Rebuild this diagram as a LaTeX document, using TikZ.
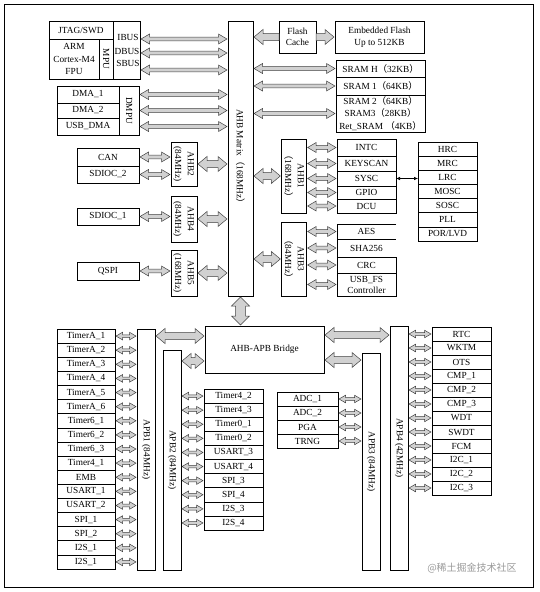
\documentclass[tikz,border=0pt]{standalone}
\usepackage{fontspec}
\setmainfont{Liberation Serif}
\newfontfamily\cjkfont{Noto Sans CJK SC}
\usetikzlibrary{arrows.meta,calc}
\newcommand\fs{\fontsize{9.3}{11}\selectfont}
\newcommand\flp{{\cjkfont （}}
\newcommand\frp{{\cjkfont ）}}
\newcommand\vtwo[2]{\rotatebox{-90}{{\def\arraystretch{1.15}\begin{tabular}{@{}c@{}}#1\\#2\end{tabular}}}}
\tikzset{
  box/.style={draw, line width=0.6pt, inner sep=0pt, outer sep=0pt, align=center, font=\fs},
  harr/.style={draw=black!75, fill=black!18, line width=0.5pt, line join=miter},
}
\newcommand\mybox[7][]{\node[box,minimum width={(#5)-(#3)},minimum height={(#6)-(#4)},#1] (#2) at ({((#3)+(#5))/2},{((#4)+(#6))/2}) {#7};}
% double-headed hollow arrow: from, to, shaft half width, head half width, head length
\newcommand\darrow[5]{%
  \path ($(#1)!1pt!(#2)$) coordinate (dAs) ($(#2)!1pt!(#1)$) coordinate (dAe);
  \path ($(dAs)!#5!(dAe)$) coordinate (dAp) ($(dAe)!#5!(dAs)$) coordinate (dAq);
  \draw[harr] (dAs) -- ($(dAp)!#4!90:(dAe)$) -- ($(dAp)!#3!90:(dAe)$)
    -- ($(dAq)!#3!-90:(dAs)$) -- ($(dAq)!#4!-90:(dAs)$) -- (dAe)
    -- ($(dAq)!#4!90:(dAs)$) -- ($(dAq)!#3!90:(dAs)$)
    -- ($(dAp)!#3!-90:(dAe)$) -- ($(dAp)!#4!-90:(dAe)$) -- cycle;}
% single-headed hollow arrow, head at the first point
\newcommand\sarrow[5]{%
  \path ($(#1)!1pt!(#2)$) coordinate (dAs) (#2) coordinate (dAe);
  \path ($(dAs)!#5!(dAe)$) coordinate (dAp);
  \draw[harr] (dAs) -- ($(dAp)!#4!90:(dAe)$) -- ($(dAp)!#3!90:(dAe)$)
    -- ($(dAe)!#3!-90:(dAs)$) -- ($(dAe)!#3!90:(dAs)$)
    -- ($(dAp)!#3!-90:(dAe)$) -- ($(dAp)!#4!-90:(dAe)$) -- cycle;}
\newcommand\bigA[2]{\darrow{#1}{#2}{3.5pt}{7.5pt}{9pt}}
\newcommand\bigS[2]{\sarrow{#1}{#2}{3.5pt}{7.5pt}{9pt}}
\newcommand\hugeA[2]{\darrow{#1}{#2}{5pt}{9pt}{9pt}}
\newcommand\medA[2]{\darrow{#1}{#2}{1.8pt}{5pt}{8.5pt}}
\newcommand\smlA[2]{\darrow{#1}{#2}{1.3pt}{3.8pt}{6.5pt}}
\begin{document}
\begin{tikzpicture}[x=1pt,y=-1pt]
\useasboundingbox (0,0) rectangle (539,592);
\draw[line width=0.8pt] (4,4) rectangle (533,587);

% AHB matrix
\mybox{mtx}{228}{21}{253}{296}{\rotatebox{-90}{AHB Matrix\flp168MHz\frp}}

% CPU
\mybox{jtag}{49}{21}{113}{39}{JTAG/SWD}
\mybox[font=\fontsize{9.3}{12.5}\selectfont]{arm}{49}{39}{99}{79}{ARM\\Cortex-M4\\FPU}
\mybox{mpu}{99}{39}{113}{79}{\rotatebox{-90}{MPU}}
\mybox{bus}{113}{21}{140}{79}{}
\node[font=\fs,inner sep=0pt] (ibus) at (128,37) {IBUS};
\node[font=\fs,inner sep=0pt] (dbus) at (127,51) {DBUS};
\node[font=\fs,inner sep=0pt] (sbus) at (128,63) {SBUS};
\coordinate (cb1) at (140,39);
\coordinate (cb2) at (140,53);
\coordinate (cb3) at (140,70);
\foreach \c in {cb1,cb2,cb3} {\medA{\c}{\c -| mtx.west}}

% DMA
\mybox{dma1}{57}{86}{119}{103}{DMA\_1}
\mybox{dma2}{57}{103}{119}{118}{DMA\_2}
\mybox{usbdma}{57}{118}{119}{135}{USB\_DMA}
\mybox{dmpu}{119}{86}{139}{135}{\rotatebox{-90}{DMPU}}
\foreach \n in {dma1,dma2,usbdma} {\medA{dmpu.east |- \n}{mtx.west |- \n}}

% Flash
\mybox{fc}{279}{21}{316}{53}{Flash\\Cache}
\mybox[font=\fontsize{9.3}{12}\selectfont]{ef}{335}{21}{424}{53}{Embedded Flash\\Up to 512KB}
\bigS{mtx.east |- fc}{fc.west}
\bigS{ef.west}{fc.east}

% SRAM
\mybox{sramh}{336}{60}{425}{77}{SRAM H\flp32KB\frp}
\mybox{sram1}{336}{77}{425}{95}{SRAM 1\flp64KB\frp}
\mybox[font=\fontsize{9.3}{12.5}\selectfont]{sram2}{336}{95}{425}{132}{SRAM 2\flp64KB\frp\\SRAM3\flp28KB\frp\\Ret\_SRAM \flp4KB\frp}
\foreach \n in {sramh,sram1,sram2} {\medA{mtx.east |- \n}{\n.west}}

% AHB2 / AHB4 / AHB5
\mybox{ahb2}{171}{142}{197}{186}{\vtwo{AHB2}{(84MHz)}}
\mybox{can}{77}{148}{139}{166}{CAN}
\mybox{sdioc2}{77}{166}{139}{183}{SDIOC\_2}
\mybox{ahb4}{171}{196}{197}{242}{\vtwo{AHB4}{(84MHz)}}
\mybox{sdioc1}{77}{208}{139}{225}{SDIOC\_1}
\mybox{ahb5}{171}{250}{197}{296}{\vtwo{AHB5}{(168MHz)}}
\mybox{qspi}{77}{262}{139}{280}{QSPI}
\medA{can.east}{can.east -| ahb2.west}
\medA{sdioc2.east}{sdioc2.east -| ahb2.west}
\medA{sdioc1.east}{sdioc1.east -| ahb4.west}
\medA{qspi.east}{qspi.east -| ahb5.west}
\bigA{ahb2.east}{ahb2.east -| mtx.west}
\bigA{ahb4.east}{ahb4.east -| mtx.west}
\bigA{ahb5.east}{ahb5.east -| mtx.west}

% AHB1
\mybox{ahb1}{282}{139}{306}{213}{\vtwo{AHB1}{\flp168MHz\frp}}
\mybox{intc}{337}{139}{396}{156}{INTC}
\mybox{keyscan}{337}{156}{396}{171}{KEYSCAN}
\mybox{sysc}{337}{171}{396}{186}{SYSC}
\mybox{gpio}{337}{186}{396}{199}{GPIO}
\mybox{dcu}{337}{199}{396}{213}{DCU}
\foreach \n in {intc,keyscan,sysc,gpio,dcu} {\medA{\n.west -| ahb1.east}{\n.west}}
\bigA{mtx.east |- ahb1}{ahb1.west}

% clocks
\foreach [count=\i] \txt in {HRC,MRC,LRC,MOSC,SOSC,PLL,POR/LVD}
  {\mybox{ck\i}{418}{142+(\i-1)*14.143}{477}{142+\i*14.143}{\txt}}
\draw[{Latex[length=4pt,width=3.5pt]}-{Latex[length=4pt,width=3.5pt]}, line width=0.6pt] (sysc.east) -- (sysc.east -| ck3.west);

% AHB3
\mybox{ahb3}{282}{222}{306}{296}{\vtwo{AHB3}{\flp84MHz\frp}}
\mybox[draw=none]{aes}{337}{224}{396}{239}{AES}
\mybox[draw=none]{sha}{337}{239}{396}{257}{SHA256}
\draw[line width=0.6pt] (aes.north east) -- (aes.north west) -- (sha.south west) -- (sha.south east);
\draw[line width=0.6pt] (aes.south west) -- (aes.south east);
\mybox{crc}{337}{257}{396}{273}{CRC}
\mybox{usbfs}{337}{273}{396}{296}{USB\_FS\\Controller}
\foreach \n in {aes,sha,crc,usbfs} {\medA{\n.west -| ahb3.east}{\n.west}}
\bigA{mtx.east |- ahb3}{ahb3.west}

% bridge and APB buses
\mybox{bridge}{205}{326}{324}{373}{AHB-APB Bridge}
\hugeA{mtx.south}{mtx.south |- bridge.north}
\mybox{apb1}{137}{329}{155}{570}{\rotatebox{-90}{APB1 (84MHz)}}
\mybox{apb2}{163}{350}{181}{570}{\rotatebox{-90}{APB2 (84MHz)}}
\mybox{apb3}{362}{353}{380}{570}{\rotatebox{-90}{APB3 (84MHz)}}
\mybox{apb4}{390}{326}{408}{570}{\rotatebox{-90}{APB4 (42MHz)}}
\path (bridge.north west) ++(0,10) coordinate (bl1);
\path (bridge.north west) ++(0,35) coordinate (bl2);
\path (bridge.north east) ++(0,9) coordinate (br1);
\path (bridge.north east) ++(0,34) coordinate (br2);
\bigA{bl1}{bl1 -| apb1.east}
\bigA{bl2}{bl2 -| apb2.east}
\bigA{br1}{br1 -| apb4.west}
\bigA{br2}{br2 -| apb3.west}

% APB1 peripherals
\foreach [count=\i] \txt in {TimerA\_1,TimerA\_2,TimerA\_3,TimerA\_4,TimerA\_5,TimerA\_6,Timer6\_1,Timer6\_2,Timer6\_3,Timer4\_1,EMB,USART\_1,USART\_2,SPI\_1,SPI\_2,I2S\_1,I2S\_1}
  {\mybox{pa\i}{57}{329+(\i-1)*14.118}{115}{329+\i*14.118}{\txt}
   \smlA{pa\i.east}{pa\i.east -| apb1.west}}

% APB2 peripherals
\foreach [count=\i] \txt in {Timer4\_2,Timer4\_3,Timer0\_1,Timer0\_2,USART\_3,USART\_4,SPI\_3,SPI\_4,I2S\_3,I2S\_4}
  {\mybox{pb\i}{204}{389+(\i-1)*14.1}{263}{389+\i*14.1}{\txt}
   \smlA{pb\i.west -| apb2.east}{pb\i.west}}

% APB3 peripherals
\foreach [count=\i] \txt in {ADC\_1,ADC\_2,PGA,TRNG}
  {\mybox{pc\i}{277}{392+(\i-1)*14}{338}{392+\i*14}{\txt}
   \smlA{pc\i.east}{pc\i.east -| apb3.west}}

% APB4 peripherals
\foreach [count=\i] \txt in {RTC,WKTM,OTS,CMP\_1,CMP\_2,CMP\_3,WDT,SWDT,FCM,I2C\_1,I2C\_2,I2C\_3}
  {\mybox{pd\i}{432}{327+(\i-1)*14}{491}{327+\i*14}{\txt}
   \smlA{pd\i.west -| apb4.east}{pd\i.west}}

% watermark
\node[text=black!40, font=\cjkfont\fontsize{10}{12}\selectfont, inner sep=0pt] (wm) at (472,568) {@稀土掘金技术社区};
\end{tikzpicture}
\end{document}
